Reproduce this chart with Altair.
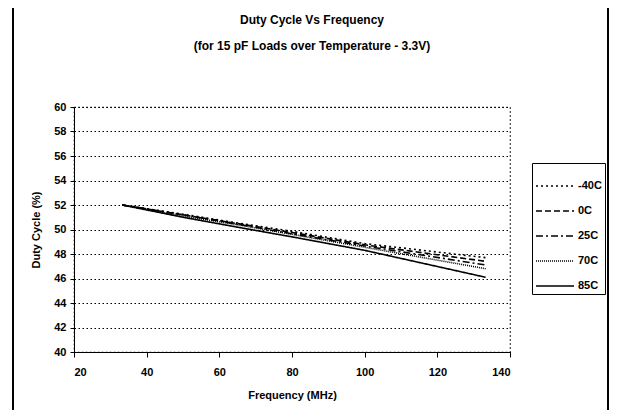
import altair as alt
import pandas as pd

freq = [33.3, 50, 66.7, 80, 100, 133.3]
series_names = ["-40C", "0C", "25C", "70C", "85C"]
duty_m40 = [52.0, 51.25, 50.45, 49.85, 48.85, 47.7]
duty_0 = [52.0, 51.2, 50.4, 49.75, 48.75, 47.4]
duty_25 = [52.0, 51.2, 50.35, 49.65, 48.65, 47.1]
duty_70 = [52.0, 51.1, 50.3, 49.6, 48.55, 46.8]
duty_85 = [52.0, 51.0, 50.1, 49.4, 48.3, 46.1]

rows = []
for name, vals in zip(series_names, [duty_m40, duty_0, duty_25, duty_70, duty_85]):
    for f, v in zip(freq, vals):
        rows.append({"freq": f, "duty": v, "series": name})
df = pd.DataFrame(rows)

lines = alt.Chart(df).mark_line(color="black").encode(
    x=alt.X("freq:Q", scale=alt.Scale(domain=[20, 140], nice=False),
            axis=alt.Axis(title="Frequency (MHz)", values=[20, 40, 60, 80, 100, 120, 140],
                          grid=False, tickSize=5, tickColor="black", domainColor="black",
                          labelPadding=9, titlePadding=12)),
    y=alt.Y("duty:Q", scale=alt.Scale(domain=[40, 60], nice=False),
            axis=alt.Axis(title="Duty Cycle (%)", values=list(range(40, 61, 2)),
                          grid=True, gridColor="black", gridDash=[1.5, 2.5], gridWidth=1.2,
                          tickSize=4, tickColor="black", domainColor="black",
                          labelPadding=4, titlePadding=12)),
    strokeDash=alt.StrokeDash("series:N",
                              scale=alt.Scale(domain=series_names,
                                              range=[[2, 3], [6, 3], [7, 3, 2, 3], [1, 1], [1, 0]]),
                              legend=alt.Legend(title=None)),
    strokeWidth=alt.StrokeWidth("series:N",
                                scale=alt.Scale(domain=series_names, range=[1.6, 1.6, 1.6, 0.8, 1.3]),
                                legend=alt.Legend(title=None)),
    order=alt.Order("freq:Q"),
)

frame = alt.Chart(df).mark_rect(fill=None, stroke="black", strokeWidth=1).encode(
    x=alt.value(-61), x2=alt.value(534), y=alt.value(-101), y2=alt.value(320)
)

chart = alt.layer(frame, lines).properties(
    width=436, height=245,
    autosize=alt.AutoSizeParams(type="none"),
    padding={"left": 66, "top": 99, "right": 99, "bottom": 58},
    title=alt.TitleParams(
        ["Duty Cycle Vs Frequency", "(for 15 pF Loads over Temperature - 3.3V)"],
        anchor="middle", frame="group", dx=20, offset=-59, baseline="bottom",
        font="Liberation Sans", fontSize=12, fontWeight="bold", lineHeight=26, color="black",
    ),
).configure_view(
    stroke="black", strokeDash=[1.5, 2.5], strokeWidth=1.2
).configure_axis(
    labelFont="Liberation Sans", labelFontSize=11, labelFontWeight="bold", labelColor="black",
    titleFont="Liberation Sans", titleFontSize=11, titleFontWeight="bold", titleColor="black",
).configure_legend(
    orient="none", legendX=458, legendY=56,
    strokeColor="black", padding=3, rowPadding=-1.5,
    symbolType="M-1,0H1", symbolSize=1444, symbolStrokeColor="black",
    labelFont="Liberation Sans", labelFontSize=11, labelFontWeight="bold", labelColor="black",
    labelOffset=3,
)

chart.save("out.html", embed_options={"renderer": "svg", "actions": False})
